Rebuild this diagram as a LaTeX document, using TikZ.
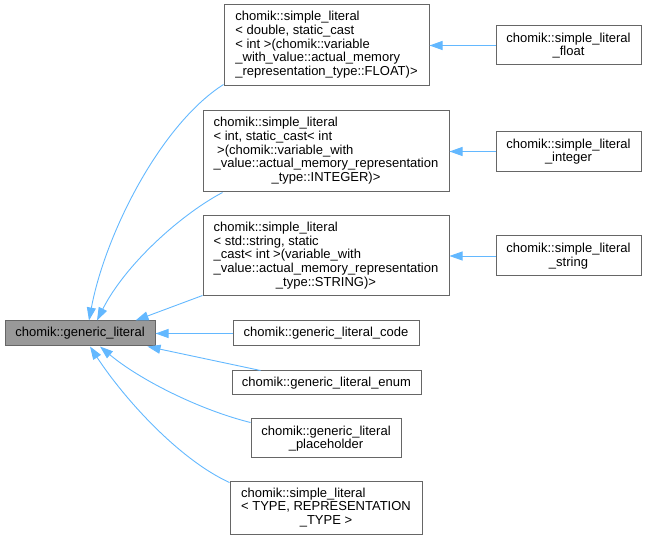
\documentclass[tikz,border=0pt]{standalone}
\usepackage{fontspec}
\setmainfont{Liberation Sans}
\usetikzlibrary{arrows.meta}
\definecolor{edgeblue}{HTML}{63B8FF}
\definecolor{boxborder}{HTML}{666666}
\definecolor{boxfill}{HTML}{999999}
\newcommand{\lastc}[2]{\begin{tabular}{@{}l@{}}#1\\\multicolumn{1}{@{}c@{}}{#2}\end{tabular}}
\begin{document}
\begin{tikzpicture}[x=1pt,y=-1pt,
  box/.style={draw=boxborder, line width=1pt, fill=white, rectangle, inner sep=0pt,
    font=\fontsize{13}{13.7}\selectfont, text=black},
  edge/.style={draw=edgeblue, line width=0.9pt, -{Triangle[length=13pt,width=9pt]}}]
\useasboundingbox (0,0) rectangle (649,540);

\node[box, fill=boxfill, minimum width=150pt, minimum height=25pt] (gen) at (80,333.5) {chomik::generic\_literal};

\node[box, minimum width=205pt, minimum height=81pt] (FLOAT) at (326.5,45.5)
  {\lastc{chomik::simple\_literal\\< double, static\_cast\\< int >(chomik::variable\\\_with\_value::actual\_memory}{\_representation\_type::FLOAT)>}};
\node[box, minimum width=246pt, minimum height=81pt] (INTEGER) at (326,151.5)
  {\lastc{chomik::simple\_literal\\< int, static\_cast< int\\\ >(chomik::variable\_with\\\_value::actual\_memory\_representation}{\_type::INTEGER)>}};
\node[box, minimum width=246pt, minimum height=80pt] (STRING) at (326,256)
  {\lastc{chomik::simple\_literal\\< std::string, static\\\_cast< int >(variable\_with\\\_value::actual\_memory\_representation}{\_type::STRING)>}};

\node[box, minimum width=186pt, minimum height=25pt] (code) at (326,333.5) {chomik::generic\_literal\_code};
\node[box, minimum width=189pt, minimum height=24pt] (enum) at (326.5,383) {chomik::generic\_literal\_enum};
\node[box, minimum width=150pt, minimum height=39pt, align=center] (placeholder) at (326,438.5) {chomik::generic\_literal\\\_placeholder};
\node[box, minimum width=192pt, minimum height=52pt] (TYPE) at (326,508)
  {\lastc{chomik::simple\_literal\\< TYPE, REPRESENTATION}{\_TYPE >}};

\node[box, minimum width=145pt, minimum height=39pt, align=center] (float) at (568.5,45.5) {chomik::simple\_literal\\\_float};
\node[box, minimum width=145pt, minimum height=40pt, align=center] (integer) at (568.5,151.5) {chomik::simple\_literal\\\_integer};
\node[box, minimum width=145pt, minimum height=40pt, align=center] (string) at (568.5,256) {chomik::simple\_literal\\\_string};

\draw[edge] (float.west) -- (FLOAT.east);
\draw[edge] (integer.west) -- (INTEGER.east);
\draw[edge] (string.west) -- (STRING.east);

\draw[edge] ([yshift=2pt]FLOAT.south west) .. controls (160,125) and (105,235) .. ([xshift=9pt]gen.north);
\draw[edge] ([xshift=20pt]INTEGER.south west) .. controls (180,215) and (125,265) .. ([xshift=17pt]gen.north);
\draw[edge] ([yshift=1pt]STRING.south west) -- ([xshift=-20pt]gen.north east);
\draw[edge] (code.west) -- (gen.east);
\draw[edge] ([xshift=29pt]enum.north west) -- ([xshift=-8pt]gen.south east);
\draw[edge] ([yshift=-4pt]placeholder.north west) .. controls (200,410) and (140,380) .. ([xshift=20pt]gen.south);
\draw[edge] ([yshift=-1pt]TYPE.north west) .. controls (180,460) and (125,400) .. ([xshift=10pt]gen.south);
\end{tikzpicture}
\end{document}
